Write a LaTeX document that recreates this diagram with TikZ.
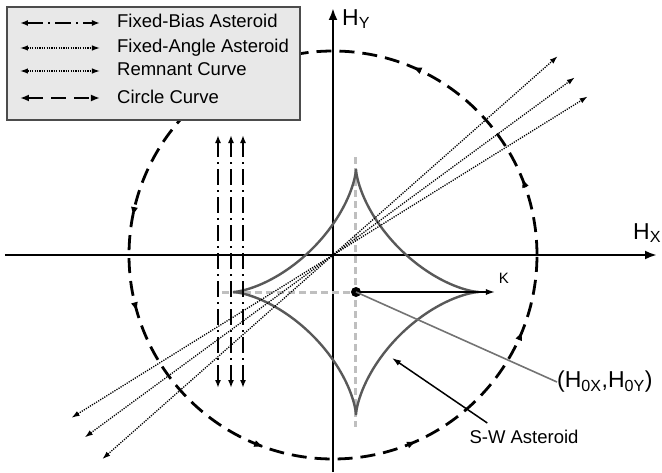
\documentclass[tikz,border=0pt]{standalone}
\usepackage{fontspec}
\setmainfont{Liberation Sans}
\usepackage{tikz}
\usetikzlibrary{arrows.meta, positioning}

\begin{document}
\begin{tikzpicture}[
  x=1pt, y=1pt,
  font=\fontsize{18.5}{22}\selectfont,
  axis/.style={line width=2.8pt, -{Latex[length=12pt, width=9pt]}},
  axlabel/.style={inner sep=0pt, font=\fontsize{23}{26}\selectfont},
  circline/.style={line width=2.8pt, dash pattern=on 15pt off 8pt},
  circleg/.style={circline, {Latex[length=9pt, width=7pt]}-{Latex[length=9pt, width=7pt]}},
  circtip/.style={line width=1pt, -{Latex[length=9pt, width=7pt]}},
  biasline/.style={line width=2pt, dash pattern=on 16pt off 5pt on 2pt off 5pt, {Latex[length=8pt, width=6pt]}-{Latex[length=8pt, width=6pt]}},
  angleline/.style={line width=1.3pt, dash pattern=on 1.2pt off 1.2pt, {Latex[length=8pt, width=5.5pt]}-{Latex[length=8pt, width=5.5pt]}},
  astroid/.style={line width=2.4pt, color=black!65, line join=miter},
  guide/.style={line width=3pt, color=black!25, dash pattern=on 7pt off 4pt},
  dot/.style={circle, fill=black, minimum size=10pt, inner sep=0pt},
  karrow/.style={line width=1.5pt, -{Latex[length=9pt, width=6pt]}},
  pointer/.style={line width=1.6pt, color=black!55},
  legbox/.style={draw=black!70, fill=black!9, line width=1.2pt, inner sep=0pt},
  legtext/.style={inner sep=0pt, anchor=base west}
]
  \useasboundingbox (-333,-217) rectangle (329,255);

  % Axes
  \coordinate (xl) at (-328,0);
  \coordinate (xr) at (324,0);
  \coordinate (yb) at (0,-217);
  \coordinate (yt) at (0,247);
  \draw[axis] (xl) -- (xr);
  \draw[axis] (yb) -- (yt);
  \node[axlabel, anchor=west] (hy) at (9,236) {H\textsubscript{Y}};
  \node[axlabel, anchor=west] (hx) at (300,22) {H\textsubscript{X}};

  % Circle curve
  \draw[circline] (204,0) arc[start angle=0, end angle=360, radius=204pt];
  \foreach \a in {22,67,112,169,196,250,294,338} {
    \draw[circtip] (\a-0.6:204) arc[start angle=\a-0.6, end angle=\a, radius=204pt];
  }

  % S-W asteroid
  \coordinate (hc) at (23,-37);
  \coordinate (gl) at (-111,-37);
  \coordinate (gt) at (23,98);
  \coordinate (gb) at (23,-172);
  \draw[guide] (gl) -- (hc);
  \draw[guide] (gt) -- (gb);
  \draw[astroid] plot[domain=0:360, samples=241, variable=\t]
    ({23+123*cos(\t)*cos(\t)*cos(\t)}, {-37+123*sin(\t)*sin(\t)*sin(\t)}) -- cycle;

  % Fixed-bias asteroid
  \foreach \x [count=\i] in {-115,-102,-90} {
    \coordinate (bb\i) at (\x,-133);
    \coordinate (bt\i) at (\x,120);
    \draw[biasline] (bb\i) -- (bt\i);
  }

  % Fixed-angle asteroid and remnant curve
  \foreach \a [count=\i] in {41.5,36.3,31.9} {
    \coordinate (ra\i) at (\a+180:308);
    \coordinate (rb\i) at (\a:300);
    \draw[angleline] (ra\i) -- (rb\i);
  }

  % Field point and K
  \node[dot] (h0) at (hc) {};
  \coordinate (kend) at (162,-37);
  \draw[karrow] (h0.center) -- (kend);
  \node[font=\fontsize{15}{18}\selectfont] (k) at (171,-23) {K};
  \node[axlabel, anchor=west] (h0lbl) at (224,-127) {(H\textsubscript{0X},H\textsubscript{0Y})};
  \draw[pointer] (h0.center) -- (h0lbl.west);

  \node[inner sep=0pt] (sw) at (191,-182) {S-W Asteroid};
  \coordinate (swtip) at (59,-103);
  \draw[karrow] ([xshift=18pt, yshift=7pt]sw.north west) -- (swtip);

  % Legend
  \node[legbox, minimum width=293pt, minimum height=113pt] (leg) at (-179.5,191.5) {};
  \foreach \y/\s/\t [count=\i] in {232/biasline/Fixed-Bias Asteroid,
                                   207/angleline/Fixed-Angle Asteroid,
                                   184/angleline/Remnant Curve,
                                   157/circleg/Circle Curve} {
    \coordinate (ls\i) at (-313,\y);
    \coordinate (le\i) at (-233,\y);
    \draw[\s] (ls\i) -- (le\i);
    \node[legtext] (lt\i) at (-216,\y-5) {\t};
  }
\end{tikzpicture}
\end{document}
